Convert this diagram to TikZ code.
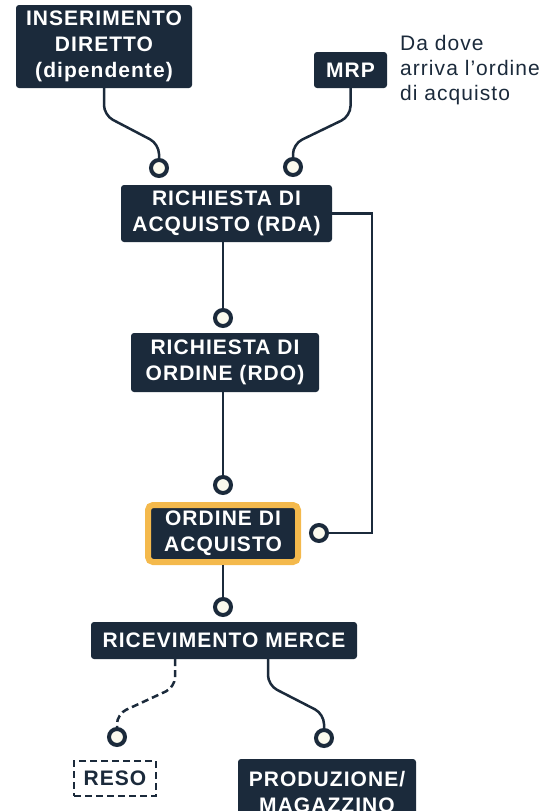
\documentclass[tikz,border=0pt]{standalone}
\usepackage{fontspec}
\setmainfont{Liberation Sans}[LetterSpace=5]
\usetikzlibrary{calc}
\definecolor{navy}{HTML}{1B2A3B}
\definecolor{ambra}{HTML}{F4B94C}
\definecolor{crema}{HTML}{FBFAEE}
\tikzset{
  treebox/.style = {align=center, inner sep=0pt, text centered, font=\bfseries\fontsize{21}{26}\selectfont},
  box_n/.style = {treebox, rectangle, rounded corners=3pt, fill=navy, text=white},
  box_y/.style = {box_n, draw=ambra, line width=6pt, rounded corners=5pt},
  box_d/.style = {treebox, rectangle, draw=navy, text=navy, fill=white, line width=2.5pt, dash pattern=on 7pt off 4pt},
  pin/.style = {circle, draw=navy, fill=crema, line width=4pt, minimum size=16pt, inner sep=0pt},
  wire/.style = {draw=navy, line width=2.5pt}
}

\begin{document}
\begin{tikzpicture}[x=1pt,y=-1pt]
	\useasboundingbox (0,0) rectangle (549,811);
	% caselle
	\node[box_n, minimum width=176pt, minimum height=83pt] (ins) at (104,46.5) {INSERIMENTO\\DIRETTO\\(dipendente)};
	\node[box_n, minimum width=73pt, minimum height=36pt] (mrp) at (350.5,70) {MRP};
	\node[anchor=west, align=left, inner sep=0pt, text=navy, font=\fontsize{21}{25}\selectfont] (nota) at (400,70) {Da dove\\arriva l'ordine\\di acquisto};
	\node[box_n, minimum width=211pt, minimum height=57pt] (rda) at (226.5,213.5) {RICHIESTA DI\\ACQUISTO (RDA)};
	\node[box_n, minimum width=188pt, minimum height=59pt] (rdo) at (225,362.5) {RICHIESTA DI\\ORDINE (RDO)};
	\node[box_y, minimum width=150pt, minimum height=57pt] (oda) at (223,533.5) {ORDINE DI\\ACQUISTO};
	\node[box_n, minimum width=266pt, minimum height=37pt] (ric) at (224,640.5) {RICEVIMENTO MERCE};
	\node[box_d, minimum width=82pt, minimum height=35pt] (reso) at (115,778.5) {RESO};
	\node[box_n, minimum width=178pt, minimum height=66pt] (prod) at (327,792) {PRODUZIONE/\\MAGAZZINO};
	% attacchi
	\node[pin] (p1) at (159,168) {};
	\node[pin] (p2) at (293,167) {};
	\node[pin] (p3) at (223,318) {};
	\node[pin] (p4) at (223,485) {};
	\node[pin] (p5) at (319,533) {};
	\node[pin] (p6) at (223,607) {};
	\node[pin] (p7) at (117,737) {};
	\node[pin] (p8) at (324,738) {};
	% collegamenti
	\draw[wire, rounded corners=10pt] (ins.south) -- ++(0,27) -- ($(p1.north)+(0,-14)$) -- (p1.north);
	\draw[wire, rounded corners=10pt] (mrp.south) -- ++(0,28) -- ($(p2.north)+(0,-13)$) -- (p2.north);
	\draw[wire] (rda.east) -- ++(40,0) |- (p5.east);
	\draw[wire] (rda.south -| p3) -- (p3.north);
	\draw[wire] (rdo.south -| p4) -- (p4.north);
	\draw[wire] (oda.south -| p6) -- (p6.north);
	\draw[wire, dash pattern=on 7pt off 4pt, rounded corners=10pt] ($(ric.south)+(-49,0)$) -- ++(0,28) -- ($(p7.north)+(0,-13)$) -- (p7.north);
	\draw[wire, rounded corners=10pt] ($(ric.south)+(44,0)$) -- ++(0,26) -- ($(p8.north)+(0,-14)$) -- (p8.north);
\end{tikzpicture}
\end{document}
